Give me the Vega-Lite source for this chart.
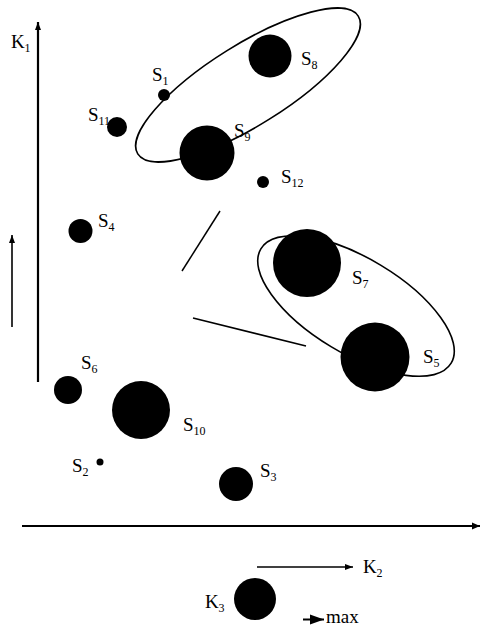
{
  "$schema": "https://vega.github.io/schema/vega-lite/v6.json",
  "width": 481,
  "height": 631,
  "padding": 0,
  "autosize": {"type": "none"},
  "background": "white",
  "config": {"view": {"stroke": null}},
  "datasets": {
    "circles": [
      {"name": "S1", "x": 164, "y": 95, "d": 12},
      {"name": "S2", "x": 100, "y": 462, "d": 7},
      {"name": "S3", "x": 236, "y": 484, "d": 34},
      {"name": "S4", "x": 80.5, "y": 231, "d": 24},
      {"name": "S5", "x": 375, "y": 357, "d": 69},
      {"name": "S6", "x": 68, "y": 390, "d": 28},
      {"name": "S7", "x": 307, "y": 263, "d": 68},
      {"name": "S8", "x": 270, "y": 56, "d": 43},
      {"name": "S9", "x": 207, "y": 153, "d": 55},
      {"name": "S10", "x": 141, "y": 410, "d": 58},
      {"name": "S11", "x": 117, "y": 127, "d": 20},
      {"name": "S12", "x": 263, "y": 182, "d": 12},
      {"name": "K3", "x": 255, "y": 599, "d": 42}
    ],
    "ellipses": [
      {"name": "E1", "x": 248, "y": 85, "d": 260, "angle": -32},
      {"name": "E2", "x": 356, "y": 306, "d": 222, "angle": 31}
    ],
    "labels": [
      {"letter": "S", "sub": "1", "x": 152, "y": 81},
      {"letter": "S", "sub": "2", "x": 72, "y": 472},
      {"letter": "S", "sub": "3", "x": 260, "y": 477},
      {"letter": "S", "sub": "4", "x": 98, "y": 227},
      {"letter": "S", "sub": "5", "x": 423, "y": 363},
      {"letter": "S", "sub": "6", "x": 81, "y": 369},
      {"letter": "S", "sub": "7", "x": 352, "y": 284},
      {"letter": "S", "sub": "8", "x": 301, "y": 65},
      {"letter": "S", "sub": "9", "x": 234, "y": 137},
      {"letter": "S", "sub": "10", "x": 183, "y": 431},
      {"letter": "S", "sub": "11", "x": 88, "y": 121},
      {"letter": "S", "sub": "12", "x": 281, "y": 183},
      {"letter": "K", "sub": "1", "x": 11, "y": 48},
      {"letter": "K", "sub": "2", "x": 363, "y": 573},
      {"letter": "K", "sub": "3", "x": 205, "y": 608}
    ],
    "words": [
      {"text": "max", "x": 326, "y": 623}
    ],
    "segments": [
      {"x": 193, "y": 318, "x2": 306, "y2": 346},
      {"x": 220, "y": 211, "x2": 182, "y2": 271}
    ],
    "axes": [
      {"name": "K1 axis", "x": 38, "y": 382, "x2": 38, "y2": 22, "dir": "up"},
      {"name": "K2 axis", "x": 22, "y": 526, "x2": 480, "y2": 526, "dir": "right"}
    ],
    "arrows": [
      {"name": "trend", "x": 12, "y": 327, "x2": 12, "y2": 235, "dir": "up"},
      {"name": "K2", "x": 257, "y": 567, "x2": 353, "y2": 567, "dir": "right"}
    ],
    "maxArrow": [
      {"name": "max", "x": 303, "y": 619.5, "x2": 324, "y2": 619.5, "dir": "right"}
    ]
  },
  "encoding": {
    "x": {"field": "x", "type": "quantitative", "scale": {"domain": [0, 481], "nice": false, "zero": false}, "axis": null},
    "y": {"field": "y", "type": "quantitative", "scale": {"domain": [0, 631], "nice": false, "zero": false, "reverse": true}, "axis": null}
  },
  "layer": [
    {
      "data": {"name": "ellipses"},
      "transform": [{"filter": "datum.name === 'E1'"}],
      "mark": {"type": "point", "filled": false, "stroke": "black", "strokeWidth": 1.6, "opacity": 1,
        "shape": "M 1 0 C 1 0.1712 0.5523 0.31 0 0.31 C -0.5523 0.31 -1 0.1712 -1 0 C -1 -0.1712 -0.5523 -0.31 0 -0.31 C 0.5523 -0.31 1 -0.1712 1 0 Z"},
      "encoding": {
        "size": {"field": "d", "type": "quantitative", "scale": {"type": "pow", "exponent": 2, "domain": [0, 300], "range": [0, 90000]}, "legend": null},
        "angle": {"field": "angle", "type": "quantitative", "scale": null}
      }
    },
    {
      "data": {"name": "ellipses"},
      "transform": [{"filter": "datum.name === 'E2'"}],
      "mark": {"type": "point", "filled": false, "stroke": "black", "strokeWidth": 1.6, "opacity": 1,
        "shape": "M 1 0 C 1 0.2375 0.5523 0.43 0 0.43 C -0.5523 0.43 -1 0.2375 -1 0 C -1 -0.2375 -0.5523 -0.43 0 -0.43 C 0.5523 -0.43 1 -0.2375 1 0 Z"},
      "encoding": {
        "size": {"field": "d", "type": "quantitative", "scale": {"type": "pow", "exponent": 2, "domain": [0, 300], "range": [0, 90000]}, "legend": null},
        "angle": {"field": "angle", "type": "quantitative", "scale": null}
      }
    },
    {
      "data": {"name": "circles"},
      "mark": {"type": "point", "shape": "circle", "filled": true, "color": "black", "opacity": 1, "strokeWidth": 0},
      "encoding": {
        "size": {"field": "d", "type": "quantitative", "scale": {"type": "pow", "exponent": 2, "domain": [0, 300], "range": [0, 90000]}, "legend": null}
      }
    },
    {
      "data": {"name": "segments"},
      "mark": {"type": "rule", "color": "black", "strokeWidth": 1.5},
      "encoding": {
        "x2": {"field": "x2"},
        "y2": {"field": "y2"}
      }
    },
    {
      "data": {"name": "axes"},
      "mark": {"type": "rule", "color": "black", "strokeWidth": 2.2},
      "encoding": {"x2": {"field": "x2"}, "y2": {"field": "y2"}}
    },
    {
      "data": {"name": "arrows"},
      "mark": {"type": "rule", "color": "black", "strokeWidth": 1.6},
      "encoding": {"x2": {"field": "x2"}, "y2": {"field": "y2"}}
    },
    {
      "data": {"name": "maxArrow"},
      "mark": {"type": "rule", "color": "black", "strokeWidth": 2},
      "encoding": {"x2": {"field": "x2"}, "y2": {"field": "y2"}}
    },
    {
      "data": {"name": "axes"},
      "transform": [{"filter": "datum.dir === 'up'"}],
      "mark": {"type": "point", "filled": true, "color": "black", "opacity": 1, "strokeWidth": 0, "shape": "M 0 0 L 0.75 2 L -0.75 2 Z"},
      "encoding": {"x": {"field": "x2", "type": "quantitative"}, "y": {"field": "y2", "type": "quantitative"}, "size": {"value": 64}}
    },
    {
      "data": {"name": "axes"},
      "transform": [{"filter": "datum.dir === 'right'"}],
      "mark": {"type": "point", "filled": true, "color": "black", "opacity": 1, "strokeWidth": 0, "shape": "M 0 0 L -2 0.85 L -2 -0.85 Z"},
      "encoding": {"x": {"field": "x2", "type": "quantitative"}, "y": {"field": "y2", "type": "quantitative"}, "size": {"value": 64}}
    },
    {
      "data": {"name": "arrows"},
      "transform": [{"filter": "datum.dir === 'up'"}],
      "mark": {"type": "point", "filled": true, "color": "black", "opacity": 1, "strokeWidth": 0, "shape": "M 0 0 L 0.75 2 L -0.75 2 Z"},
      "encoding": {"x": {"field": "x2", "type": "quantitative"}, "y": {"field": "y2", "type": "quantitative"}, "size": {"value": 64}}
    },
    {
      "data": {"name": "arrows"},
      "transform": [{"filter": "datum.dir === 'right'"}],
      "mark": {"type": "point", "filled": true, "color": "black", "opacity": 1, "strokeWidth": 0, "shape": "M 0 0 L -2 0.75 L -2 -0.75 Z"},
      "encoding": {"x": {"field": "x2", "type": "quantitative"}, "y": {"field": "y2", "type": "quantitative"}, "size": {"value": 64}}
    },
    {
      "data": {"name": "maxArrow"},
      "mark": {"type": "point", "filled": true, "color": "black", "opacity": 1, "strokeWidth": 0, "shape": "M 0 0 L -2 0.7 L -2 -0.7 Z"},
      "encoding": {"x": {"field": "x2", "type": "quantitative"}, "y": {"field": "y2", "type": "quantitative"}, "size": {"value": 196}}
    },
    {
      "data": {"name": "labels"},
      "mark": {"type": "text", "align": "left", "baseline": "alphabetic", "font": "Liberation Serif", "fontSize": 19, "color": "black"},
      "encoding": {"text": {"field": "letter"}}
    },
    {
      "data": {"name": "labels"},
      "transform": [{"filter": "datum.letter === 'S'"}],
      "mark": {"type": "text", "align": "left", "baseline": "alphabetic", "font": "Liberation Serif", "fontSize": 12, "color": "black", "dx": 10.5, "dy": 4},
      "encoding": {"text": {"field": "sub"}}
    },
    {
      "data": {"name": "labels"},
      "transform": [{"filter": "datum.letter === 'K'"}],
      "mark": {"type": "text", "align": "left", "baseline": "alphabetic", "font": "Liberation Serif", "fontSize": 12, "color": "black", "dx": 13.5, "dy": 4},
      "encoding": {"text": {"field": "sub"}}
    },
    {
      "data": {"name": "words"},
      "mark": {"type": "text", "align": "left", "baseline": "alphabetic", "font": "Liberation Serif", "fontSize": 19, "color": "black"},
      "encoding": {"text": {"field": "text"}}
    }
  ]
}
